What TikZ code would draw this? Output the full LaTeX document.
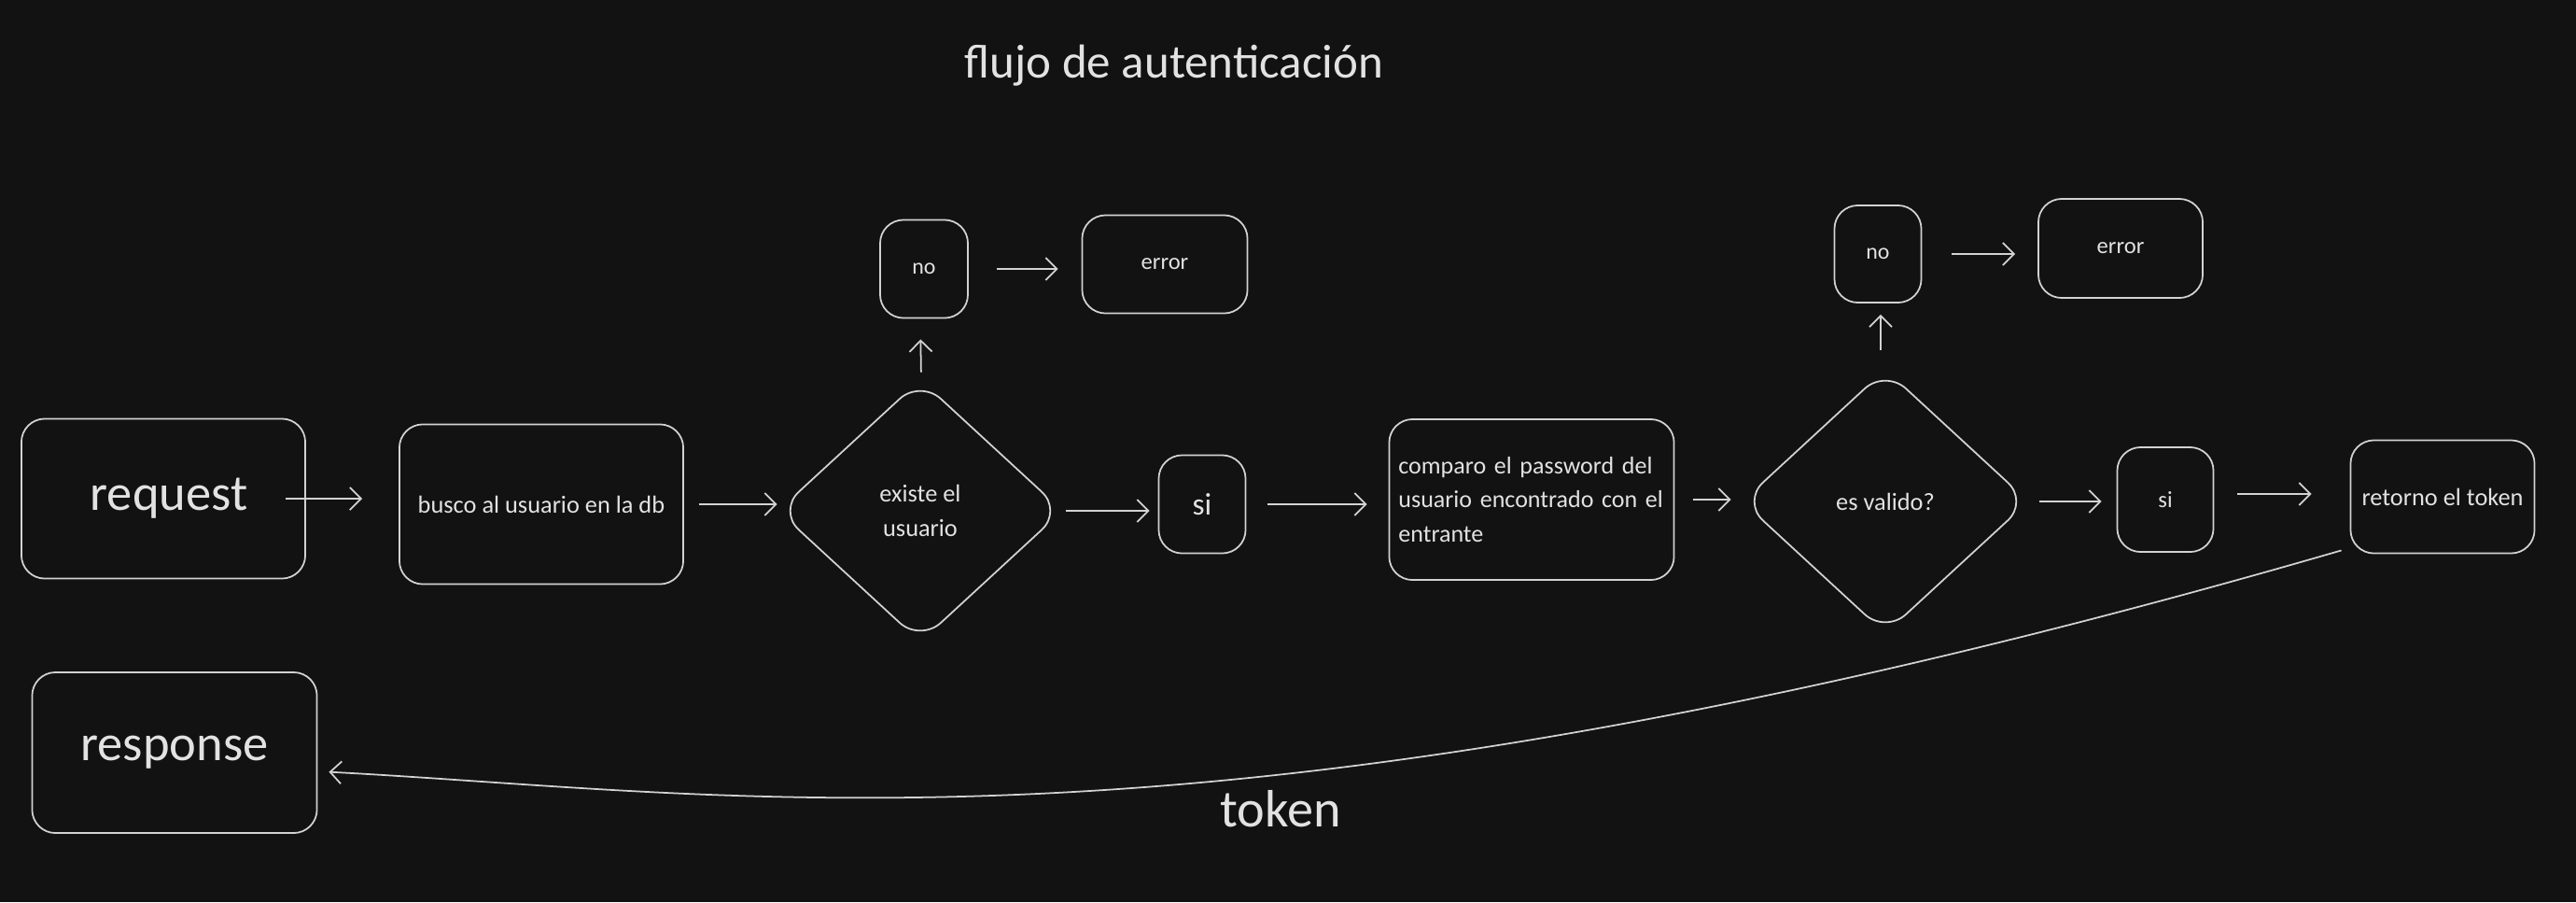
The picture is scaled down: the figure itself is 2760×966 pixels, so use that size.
\documentclass[tikz,border=0pt]{standalone}
\usepackage{fontspec}
\setmainfont{Carlito}
\usetikzlibrary{shapes.geometric}
\usetikzlibrary{arrows.meta}

\definecolor{bgdark}{HTML}{121212}
\definecolor{inkline}{HTML}{D2D2D2}
\definecolor{inktext}{HTML}{E2E2E2}

\tikzset{
  box/.style={draw=inkline, line width=0.5pt, rounded corners=0.25cm, text=inktext, inner sep=0pt},
  decision/.style={diamond, draw=inkline, line width=0.5pt, rounded corners=0.3cm, text=inktext, inner sep=0pt, align=center},
  arr/.style={draw=inkline, line width=0.5pt, -{Straight Barb[length=1.2mm, width=2.4mm]}},
  big/.style={font=\fontsize{15.5}{18}\selectfont},
  tiny/.style={font=\fontsize{7.5}{10.5}\selectfont},
}

\begin{document}
\begin{tikzpicture}[x=0.01cm, y=-0.01cm]

  \fill[bgdark] (0,0) rectangle (2760,966);
  \useasboundingbox (0,0) rectangle (2760,966);

  \node[text=inktext, font=\fontsize{14.5}{17}\selectfont] (title) at (1258,70) {flujo de autenticación};

  % fila principal
  \node[box, big, minimum width=3.04cm, minimum height=1.71cm] (request) at (175,534) {\hspace{0.12cm}request};
  \node[box, tiny, minimum width=3.04cm, minimum height=1.71cm] (busco) at (580,540) {busco al usuario en la db};
  \node[decision, tiny, minimum width=3.05cm, minimum height=2.81cm] (existe) at (986,547) {existe el\\usuario};
  \node[box, font=\fontsize{9.5}{11}\selectfont, minimum width=0.93cm, minimum height=1.05cm] (si1) at (1288,540) {si};
  \node[box, tiny, minimum height=1.72cm, text width=2.85cm, inner xsep=0.1cm, align=left,
        font=\fontsize{7.4}{10.4}\selectfont] (compara) at (1641,535)
        {comparo el password del\\usuario encontrado con el\\entrante};
  \node[decision, tiny, minimum width=3.07cm, minimum height=2.83cm] (valido) at (2020,537) {es valido?};
  \node[box, font=\fontsize{7}{9}\selectfont, minimum width=1.03cm, minimum height=1.12cm] (si2) at (2320,535) {si};
  \node[box, tiny, minimum width=1.97cm, minimum height=1.21cm] (retorno) at (2617,532) {retorno el token};

  % ramas de error
  \node[box, font=\fontsize{6.8}{9}\selectfont, minimum width=0.94cm, minimum height=1.05cm] (no1) at (990,288) {no};
  \node[box, font=\fontsize{7}{9}\selectfont, minimum width=1.77cm, minimum height=1.05cm] (error1) at (1248,283) {error};
  \node[box, font=\fontsize{6.8}{9}\selectfont, minimum width=0.93cm, minimum height=1.04cm] (no2) at (2012,272) {no};
  \node[box, font=\fontsize{7}{9}\selectfont, minimum width=1.76cm, minimum height=1.06cm] (error2) at (2272,266) {error};

  % respuesta
  \node[box, big, minimum width=3.05cm, minimum height=1.72cm] (response) at (187,806) {response};
  \node[text=inktext, font=\fontsize{16}{18}\selectfont] (token) at (1372,866) {token};

  \draw[arr, shorten <=-0.22cm, shorten >=0.39cm] (request.east) -- (busco.west |- request.east);
  \draw[arr, shorten <=0.16cm] (busco.east) -- (existe.west |- busco.east);
  \draw[arr, shorten <=0.03cm, shorten >=0.09cm] (existe.east) -- (si1.west |- existe.east);
  \draw[arr, shorten <=0.23cm, shorten >=0.23cm] (si1.east) -- (compara.west |- si1.east);
  \draw[arr, shorten <=0.19cm, shorten >=0.11cm] (compara.east) -- (valido.west |- compara.east);
  \draw[arr, shorten <=0.10cm, shorten >=0.16cm] (valido.east) -- (si2.west |- valido.east);
  \draw[arr, shorten <=0.25cm, shorten >=0.41cm] ([yshift=0.06cm]si2.east) -- ([yshift=0.06cm]si2.east -| retorno.west);

  \draw[arr, shorten <=0.07cm, shorten >=0.22cm] ([xshift=0.01cm]existe.north) -- (existe.north |- no1.south);
  \draw[arr, shorten <=0.30cm, shorten >=0.25cm] (no1.east) -- (error1.west |- no1.east);
  \draw[arr, shorten <=0.20cm, shorten >=0.12cm] ([xshift=-0.05cm]valido.north) -- ([xshift=-0.05cm]valido.north |- no2.south);
  \draw[arr, shorten <=0.32cm, shorten >=0.24cm] (no2.east) -- (error2.west |- no2.east);

  \draw[arr, shorten >=0.12cm] ([xshift=-0.09cm, yshift=0.04cm]retorno.south west)
        .. controls (1300,940) and (800,850) .. ([yshift=-0.2cm]response.east);

\end{tikzpicture}
\end{document}
